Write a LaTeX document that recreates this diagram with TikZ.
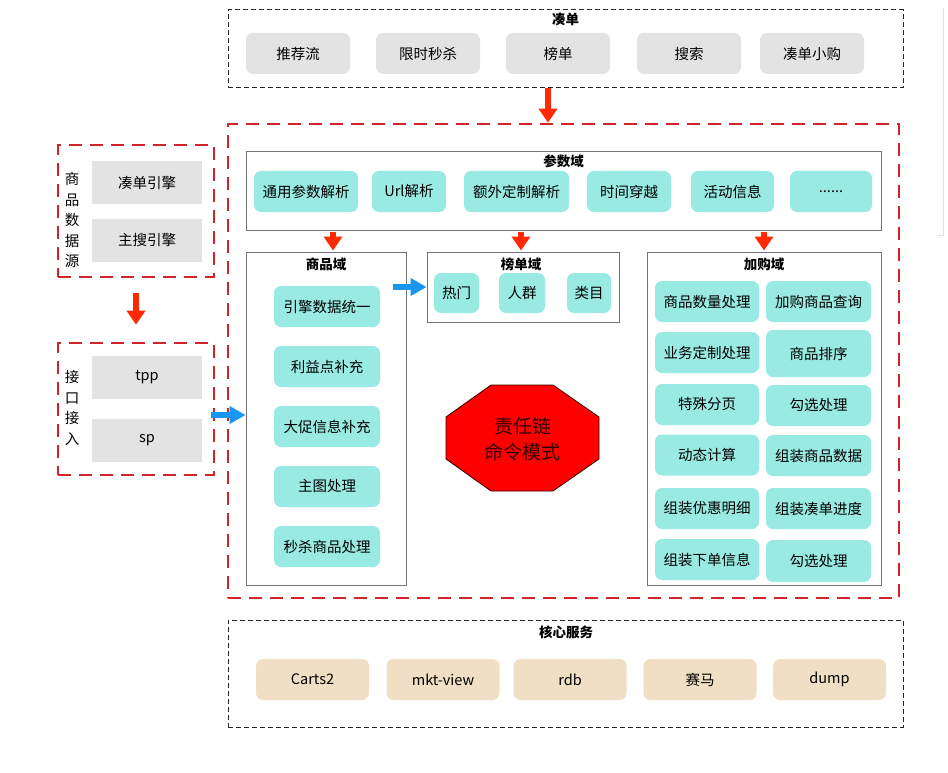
\documentclass[tikz,border=0pt]{standalone}
\usepackage{fontspec}
\setmainfont{Noto Sans CJK SC}
\usetikzlibrary{arrows.meta,positioning,calc}
\definecolor{btngray}{RGB}{227,227,227}
\definecolor{btncyan}{RGB}{152,234,226}
\definecolor{btntan}{RGB}{240,223,196}
\definecolor{dashred}{RGB}{208,36,40}
\definecolor{arrred}{RGB}{255,42,0}
\definecolor{arrblue}{RGB}{24,150,240}
\definecolor{octtext}{RGB}{45,0,0}
\tikzset{
  btn/.style={rounded corners=7pt, minimum height=41pt, inner sep=0pt, font=\fontsize{14.5}{16}\selectfont},
  graybtn/.style={btn, fill=btngray},
  cyanbtn/.style={btn, fill=btncyan},
  tanbtn/.style={btn, fill=btntan},
  srcbtn/.style={btn, fill=btngray, rounded corners=0pt, minimum width=110pt, minimum height=43pt},
  blackdash/.style={draw=black!85, line width=1pt, dash pattern=on 5pt off 3pt, inner sep=0pt},
  reddash/.style={draw=dashred, line width=2.6pt, dash pattern=on 13pt off 8pt, inner sep=0pt},
  domainbox/.style={draw=black!55, line width=0.9pt, inner sep=0pt},
  boxtitle/.style={font=\bfseries\fontsize{13.5}{15}\selectfont},
  sidelabel/.style={align=center, font=\fontsize{14.5}{20.5}\selectfont},
  redarr/.style={-{Triangle[length=14pt,width=18pt]}, line width=5.5pt, arrred},
  bluearr/.style={-{Triangle[length=16pt,width=17pt]}, line width=6pt, arrblue},
}

\begin{document}
\begin{tikzpicture}[x=1pt,y=-1pt]
  \useasboundingbox (0,0) rectangle (948,773);
  \fill[white] (0,0) rectangle (948,773);
  \draw[black!12] (943,8) -- (943,235) -- (938,235);

  % order entries
  \node[blackdash, minimum width=675pt, minimum height=78pt] (order) at (565.5,49) {};
  \node[boxtitle] (orderT) at (565.5,19) {凑单};
  \foreach \x/\t [count=\i] in {298/推荐流, 428/限时秒杀, 558/榜单, 689/搜索, 812/凑单小购}
    \node[graybtn, minimum width=104pt] (o\i) at (\x,53.5) {\t};

  % chain of responsibility
  \node[reddash, minimum width=671pt, minimum height=474pt] (main) at (563.5,361) {};

  % parameter domain
  \node[domainbox, minimum width=635pt, minimum height=79pt] (param) at (563.5,190.5) {};
  \node[boxtitle] (paramT) at (563.5,161) {参数域};
  \foreach \x/\w/\t [count=\i] in {306/104/通用参数解析, 409/74/Url解析, 516.5/105/额外定制解析,
      629/84/时间穿越, 732.5/83/活动信息}
    \node[cyanbtn, minimum width=\w pt] (p\i) at (\x,191.5) {\t};
  \node[cyanbtn, minimum width=82pt] (p6) at (831,191.5) {......};

  % goods domain
  \node[domainbox, minimum width=160pt, minimum height=333pt] (goods) at (326,418.5) {};
  \node[boxtitle] (goodsT) at (326,264) {商品域};
  \foreach \y/\t [count=\i] in {306.5/引擎数据统一, 366.5/利益点补充, 426.5/大促信息补充,
      486.5/主图处理, 546.5/秒杀商品处理}
    \node[cyanbtn, minimum width=106pt] (g\i) at (327,\y) {\t};

  % rank domain
  \node[domainbox, minimum width=192pt, minimum height=70pt] (rank) at (523,287) {};
  \node[boxtitle] (rankT) at (521,264) {榜单域};
  \foreach \x/\w/\t [count=\i] in {456.5/45/热门, 522/46/人群, 589/44/类目}
    \node[cyanbtn, minimum width=\w pt, minimum height=40pt] (r\i) at (\x,293) {\t};

  % cart domain
  \node[domainbox, minimum width=234pt, minimum height=333pt] (cart) at (764,418.5) {};
  \node[boxtitle] (cartT) at (764,264) {加购域};
  \foreach \y/\t [count=\i] in {301.5/商品数量处理, 352.5/业务定制处理, 404.5/特殊分页,
      455/动态计算, 508.5/组装优惠明细, 559.5/组装下单信息}
    \node[cyanbtn, minimum width=104pt] (cl\i) at (707,\y) {\t};
  \foreach \y/\h/\t [count=\i] in {301.5/41/加购商品查询, 353.5/47/商品排序, 405.5/41/勾选处理,
      455.5/41/组装商品数据, 508.5/41/组装凑单进度, 561/42/勾选处理}
    \node[cyanbtn, minimum width=105pt, minimum height=\h pt] (cr\i) at (818.5,\y) {\t};

  % octagon
  \filldraw[fill=red, draw=black!80!red, line width=0.8pt]
    (491,385) -- (553,385) -- (599,417) -- (599,459) -- (553,491) -- (491,491) -- (446,459) -- (446,417) -- cycle;
  \node[align=center, text=octtext, font=\fontsize{19}{26}\selectfont] (chain) at (522.5,439) {责任链\\命令模式};

  % data sources
  \node[reddash, minimum width=156pt, minimum height=132pt] (src) at (136,211) {};
  \node[sidelabel] (srcL) at (72,220) {商\\品\\数\\据\\源};
  \node[srcbtn] (s1) at (147,182.5) {凑单引擎};
  \node[srcbtn] (s2) at (147,240) {主搜引擎};

  \node[reddash, minimum width=156pt, minimum height=132pt] (iface) at (136,409) {};
  \node[sidelabel] (ifaceL) at (72,408) {接\\口\\接\\入};
  \node[srcbtn] (i1) at (147,377.5) {tpp};
  \node[srcbtn] (i2) at (147,440) {sp};

  % core services
  \node[blackdash, minimum width=675pt, minimum height=107pt] (core) at (565.5,673.5) {};
  \node[boxtitle] (coreT) at (566,632) {核心服务};
  \foreach \x/\t [count=\i] in {312.5/Carts2, 443/mkt-view, 570/rdb, 700/赛马, 829.5/dump}
    \node[tanbtn, minimum width=113pt] (c\i) at (\x,679.5) {\t};

  % arrows
  \coordinate (inA) at ([xshift=-17.5pt]order.south);
  \draw[redarr] (inA) -- (inA |- main.north);
  \draw[redarr, shorten <=15pt, shorten >=17pt] (src.south) -- (iface.north);
  \draw[redarr, shorten <=2pt, shorten >=1pt] ([xshift=7pt]goods.north |- param.south) -- ([xshift=7pt]goods.north);
  \draw[redarr, shorten <=2pt, shorten >=1pt] ([xshift=-2pt]rank.north |- param.south) -- ([xshift=-2pt]rank.north);
  \draw[redarr, shorten <=2pt, shorten >=1pt] (cart.north |- param.south) -- (cart.north);
  \coordinate (bl) at ([xshift=-4pt,yshift=-6pt]iface.east);
  \draw[bluearr] (bl) -- (bl -| goods.west);
  \coordinate (br) at ([xshift=-13pt]goods.east |- rank.west);
  \draw[bluearr] (br) -- (rank.west);
\end{tikzpicture}
\end{document}
